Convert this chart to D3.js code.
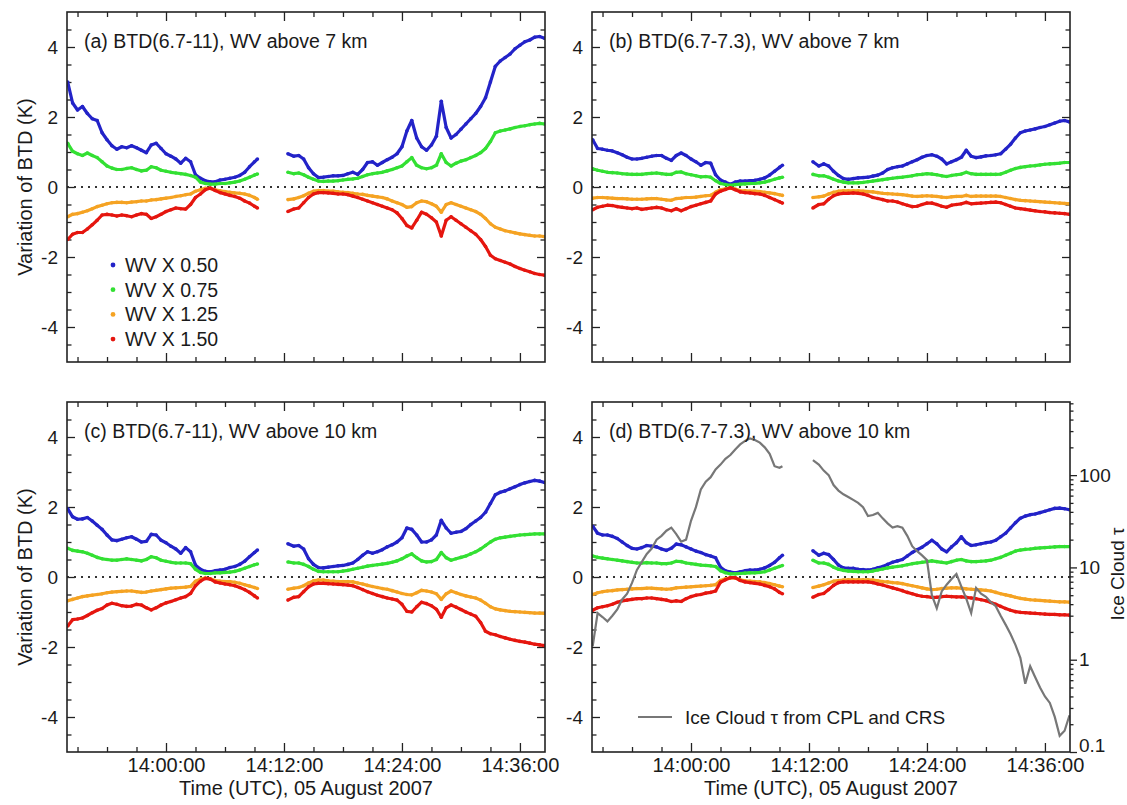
<!DOCTYPE html>
<html>
<head>
<meta charset="utf-8">
<script src="https://cdn.jsdelivr.net/npm/d3@7"></script>
<style>
  body { margin: 0; background: #fff; }
  svg { font-family: "Liberation Sans", Arial, Helvetica, sans-serif; }
</style>
</head>
<body>
<div id="chart"></div>
<script>
(function() {
// minutes relative to 14:00:00 UTC; the flight track has a gap between the two segments
var timeSeg1 = [-10, -9.5, -9, -8.5, -8, -7.5, -7, -6.5, -6, -5.5,
  -5, -4.5, -4, -3.5, -3, -2.5, -2, -1.5, -1, -0.5,
  0, 0.5, 1, 1.5, 2, 2.5, 3, 3.5, 4, 4.5,
  5, 5.5, 6, 6.5, 7, 7.5, 8, 8.5, 9, 9.3];
var timeSeg2 = [12.4, 13, 13.5, 14, 14.5, 15, 15.5, 16, 16.5, 17,
  17.5, 18, 18.5, 19, 19.5, 20, 20.5, 21, 21.5, 22,
  22.5, 23, 23.5, 24, 24.5, 25, 25.5, 26, 26.5, 27,
  27.5, 28, 28.5, 29, 29.5, 30, 30.5, 31, 31.5, 32,
  32.5, 33, 33.5, 34, 34.5, 35, 35.5, 36, 36.5, 37,
  37.5, 38, 38.5];

var seriesNames = ['WV X 0.50', 'WV X 0.75', 'WV X 1.25', 'WV X 1.50'];
var seriesColors = ['#2323c8', '#33e033', '#f5a323', '#e5160f'];

// (a) BTD(6.7-11), WV above 7 km
var a050 = [3.0, 2.4, 2.2, 2.3, 2.1, 1.95, 1.9, 1.55, 1.35, 1.18,
  1.08, 1.15, 1.12, 1.18, 1.12, 1.05, 0.98, 1.2, 1.25, 1.1,
  0.95, 0.88, 0.8, 0.68, 0.82, 0.72, 0.35, 0.25, 0.18, 0.15,
  0.15, 0.2, 0.22, 0.25, 0.28, 0.33, 0.42, 0.58, 0.72, 0.8,
  0.95, 0.88, 0.9, 0.8, 0.55, 0.38, 0.27, 0.28, 0.3, 0.32,
  0.32, 0.33, 0.38, 0.42, 0.36, 0.5, 0.7, 0.72, 0.62, 0.7,
  0.78, 0.85, 0.95, 1.15, 1.6, 1.9, 1.4, 1.15, 1.05, 1.2,
  1.45, 2.45, 1.7, 1.4, 1.5, 1.65, 1.8, 1.95, 2.1, 2.3,
  2.55, 3.0, 3.45, 3.6, 3.7, 3.8, 3.95, 4.05, 4.15, 4.2,
  4.28, 4.3, 4.25];
var a075 = [1.25, 1.02, 0.95, 0.9, 0.97, 0.9, 0.84, 0.72, 0.6, 0.54,
  0.5, 0.5, 0.53, 0.55, 0.5, 0.46, 0.48, 0.58, 0.55, 0.48,
  0.45, 0.42, 0.4, 0.38, 0.36, 0.33, 0.28, 0.14, 0.1, 0.08,
  0.08, 0.1, 0.1, 0.12, 0.14, 0.17, 0.22, 0.28, 0.34, 0.37,
  0.42, 0.38, 0.4, 0.35, 0.28, 0.22, 0.17, 0.16, 0.17, 0.17,
  0.18, 0.2, 0.22, 0.23, 0.25, 0.3, 0.35, 0.38, 0.4, 0.42,
  0.46, 0.5, 0.55, 0.6, 0.72, 0.84, 0.62, 0.55, 0.52, 0.55,
  0.62, 0.95, 0.7, 0.6, 0.68, 0.74, 0.78, 0.84, 0.9, 0.98,
  1.1, 1.3, 1.55, 1.6, 1.63, 1.66, 1.7, 1.73, 1.75, 1.78,
  1.8, 1.82, 1.8];
var a125 = [-0.85, -0.78, -0.76, -0.72, -0.68, -0.62, -0.56, -0.52, -0.48, -0.45,
  -0.44, -0.44, -0.45, -0.43, -0.42, -0.4, -0.4, -0.37, -0.36, -0.34,
  -0.32, -0.3, -0.27, -0.25, -0.22, -0.2, -0.12, -0.08, -0.04, -0.04,
  -0.08, -0.11, -0.13, -0.15, -0.17, -0.18, -0.2, -0.24, -0.3, -0.35,
  -0.36, -0.34, -0.3, -0.25, -0.18, -0.12, -0.1, -0.1, -0.12, -0.12,
  -0.14, -0.15, -0.16, -0.18, -0.2, -0.21, -0.24, -0.26, -0.28, -0.3,
  -0.34, -0.4, -0.45, -0.5, -0.58, -0.56, -0.45, -0.4, -0.42, -0.48,
  -0.55, -0.72, -0.5, -0.45, -0.5, -0.55, -0.6, -0.65, -0.7, -0.78,
  -0.9, -1.05, -1.15, -1.2, -1.25, -1.28, -1.31, -1.34, -1.36, -1.38,
  -1.4, -1.4, -1.42];
var a150 = [-1.5, -1.35, -1.3, -1.3, -1.2, -1.08, -0.95, -0.8, -0.78, -0.8,
  -0.83, -0.8, -0.82, -0.85, -0.8, -0.76, -0.78, -0.9, -0.85, -0.78,
  -0.7, -0.65, -0.6, -0.62, -0.63, -0.5, -0.3, -0.2, -0.08, -0.03,
  -0.1, -0.16, -0.2, -0.24, -0.27, -0.32, -0.4, -0.46, -0.55, -0.6,
  -0.7, -0.63, -0.6, -0.45, -0.3, -0.2, -0.16, -0.16, -0.17, -0.18,
  -0.2, -0.2, -0.22, -0.26, -0.3, -0.35, -0.4, -0.45, -0.5, -0.55,
  -0.6, -0.65, -0.74, -0.9, -1.1, -1.17, -0.95, -0.72, -0.78, -0.88,
  -1.0, -1.4, -0.95, -0.85, -0.95, -1.05, -1.15, -1.25, -1.35, -1.5,
  -1.7, -1.95, -2.05, -2.1, -2.15, -2.2, -2.27, -2.33, -2.38, -2.42,
  -2.47, -2.5, -2.52];

// (b) BTD(6.7-7.3), WV above 7 km
var b050 = [1.35, 1.1, 1.08, 1.05, 1.03, 0.98, 0.92, 0.85, 0.8, 0.8,
  0.82, 0.85, 0.88, 0.9, 0.9, 0.82, 0.76, 0.9, 0.97, 0.9,
  0.8, 0.72, 0.62, 0.7, 0.68, 0.35, 0.2, 0.14, 0.08, 0.14,
  0.17, 0.17, 0.18, 0.19, 0.22, 0.26, 0.34, 0.45, 0.56, 0.62,
  0.72, 0.6, 0.66, 0.6, 0.45, 0.33, 0.24, 0.22, 0.24, 0.26,
  0.27, 0.28, 0.31, 0.34, 0.4, 0.5, 0.55, 0.58, 0.6, 0.66,
  0.72, 0.78, 0.85, 0.9, 0.92, 0.88, 0.8, 0.66, 0.72, 0.78,
  0.85, 1.05, 0.88, 0.84, 0.86, 0.89, 0.9, 0.92, 0.95, 1.08,
  1.22, 1.4, 1.55, 1.6, 1.63, 1.66, 1.7, 1.73, 1.78, 1.83,
  1.88, 1.9, 1.86];
var b075 = [0.52, 0.48, 0.45, 0.42, 0.41, 0.4, 0.38, 0.37, 0.36, 0.36,
  0.36, 0.38, 0.39, 0.4, 0.38, 0.36, 0.36, 0.42, 0.43, 0.38,
  0.35, 0.32, 0.29, 0.3, 0.28, 0.18, 0.1, 0.07, 0.05, 0.07,
  0.08, 0.09, 0.1, 0.1, 0.12, 0.14, 0.18, 0.22, 0.26, 0.28,
  0.36, 0.32, 0.32, 0.28, 0.22, 0.17, 0.14, 0.12, 0.12, 0.12,
  0.13, 0.15, 0.17, 0.19, 0.21, 0.23, 0.25, 0.27, 0.28, 0.3,
  0.32, 0.35, 0.36, 0.38, 0.37, 0.35, 0.32, 0.3, 0.33, 0.35,
  0.37, 0.42, 0.38, 0.36, 0.36, 0.36, 0.36, 0.36, 0.37, 0.42,
  0.48, 0.53, 0.56, 0.58, 0.6, 0.61, 0.63, 0.65, 0.66, 0.67,
  0.68, 0.7, 0.7];
var b125 = [-0.32, -0.3, -0.3, -0.31, -0.32, -0.33, -0.33, -0.34, -0.35, -0.35,
  -0.35, -0.34, -0.33, -0.33, -0.35, -0.37, -0.38, -0.33, -0.32, -0.3,
  -0.3, -0.29, -0.27, -0.25, -0.24, -0.15, -0.08, -0.05, -0.03, -0.06,
  -0.1, -0.11, -0.12, -0.12, -0.13, -0.15, -0.17, -0.19, -0.22, -0.24,
  -0.3, -0.28, -0.26, -0.2, -0.15, -0.12, -0.11, -0.11, -0.11, -0.11,
  -0.12, -0.13, -0.14, -0.16, -0.18, -0.19, -0.2, -0.21, -0.22, -0.24,
  -0.26, -0.27, -0.26, -0.25, -0.26, -0.27, -0.29, -0.3, -0.28, -0.27,
  -0.27, -0.24, -0.27, -0.26, -0.26, -0.26, -0.26, -0.26, -0.27, -0.3,
  -0.33, -0.36, -0.38, -0.39, -0.4, -0.41, -0.42, -0.43, -0.44, -0.45,
  -0.46, -0.47, -0.48];
var b150 = [-0.65, -0.58, -0.55, -0.52, -0.53, -0.56, -0.58, -0.6, -0.62, -0.6,
  -0.64, -0.62, -0.6, -0.58, -0.6, -0.65, -0.68, -0.62, -0.68, -0.62,
  -0.56, -0.52, -0.48, -0.44, -0.4, -0.2, -0.12, -0.07, -0.02, -0.08,
  -0.14, -0.16, -0.17, -0.19, -0.2, -0.24, -0.3, -0.36, -0.42, -0.46,
  -0.6, -0.5, -0.48, -0.35, -0.25, -0.2, -0.18, -0.18, -0.17, -0.18,
  -0.2, -0.24, -0.3, -0.33, -0.36, -0.4, -0.4, -0.43, -0.48, -0.52,
  -0.56, -0.55, -0.5, -0.46, -0.46, -0.5, -0.55, -0.58, -0.52, -0.5,
  -0.48, -0.44, -0.48, -0.47, -0.46, -0.45, -0.44, -0.43, -0.45, -0.5,
  -0.55, -0.6, -0.62, -0.64, -0.66, -0.68, -0.7, -0.71, -0.73, -0.74,
  -0.75, -0.76, -0.78];

// (c) BTD(6.7-11), WV above 10 km
var c050 = [1.95, 1.72, 1.65, 1.66, 1.7, 1.6, 1.48, 1.36, 1.2, 1.06,
  1.04, 1.08, 1.12, 1.15, 1.08, 1.0, 1.02, 1.22, 1.2, 1.05,
  0.98, 0.88, 0.8, 0.68, 0.84, 0.72, 0.34, 0.22, 0.16, 0.15,
  0.18, 0.2, 0.22, 0.27, 0.3, 0.36, 0.45, 0.58, 0.7, 0.77,
  0.95, 0.88, 0.9, 0.8, 0.52, 0.36, 0.27, 0.26, 0.28, 0.3,
  0.32, 0.33, 0.36, 0.4, 0.5, 0.62, 0.72, 0.68, 0.72, 0.78,
  0.86, 0.92, 1.0, 1.12, 1.4, 1.36, 1.2, 1.0, 1.0, 1.06,
  1.2, 1.62, 1.4, 1.25, 1.28, 1.3, 1.38, 1.5, 1.6, 1.7,
  1.85, 2.1, 2.35, 2.42, 2.46, 2.52, 2.58, 2.64, 2.69, 2.73,
  2.76, 2.74, 2.7];
var c075 = [0.82, 0.76, 0.74, 0.72, 0.68, 0.62, 0.56, 0.52, 0.5, 0.48,
  0.48, 0.5, 0.52, 0.5, 0.48, 0.46, 0.5, 0.58, 0.55, 0.48,
  0.45, 0.42, 0.4, 0.4, 0.4, 0.38, 0.22, 0.13, 0.1, 0.1,
  0.12, 0.12, 0.13, 0.14, 0.16, 0.2, 0.25, 0.3, 0.35, 0.37,
  0.43, 0.4, 0.4, 0.36, 0.3, 0.22, 0.16, 0.15, 0.15, 0.15,
  0.15, 0.17, 0.19, 0.22, 0.25, 0.28, 0.31, 0.33, 0.35, 0.37,
  0.39, 0.42, 0.46, 0.52, 0.6, 0.66, 0.55, 0.46, 0.43, 0.44,
  0.5, 0.7, 0.55, 0.48, 0.52, 0.56, 0.6, 0.66, 0.72, 0.8,
  0.9, 1.0, 1.08, 1.12, 1.14, 1.16, 1.18, 1.2, 1.21, 1.22,
  1.23, 1.23, 1.23];
var c125 = [-0.68, -0.64, -0.6, -0.56, -0.54, -0.52, -0.5, -0.48, -0.45, -0.43,
  -0.42, -0.41, -0.4, -0.4, -0.42, -0.44, -0.43, -0.4, -0.38, -0.36,
  -0.34, -0.32, -0.31, -0.3, -0.29, -0.27, -0.12, -0.06, -0.03, -0.05,
  -0.1, -0.12, -0.13, -0.13, -0.15, -0.18, -0.22, -0.26, -0.3, -0.33,
  -0.35, -0.32, -0.3, -0.25, -0.17, -0.11, -0.09, -0.09, -0.11, -0.12,
  -0.13, -0.13, -0.13, -0.14, -0.17, -0.2, -0.24, -0.27, -0.3, -0.33,
  -0.35, -0.39, -0.43, -0.47, -0.5, -0.51, -0.45, -0.38, -0.4, -0.43,
  -0.48, -0.64, -0.48, -0.4, -0.45, -0.5, -0.54, -0.57, -0.6, -0.66,
  -0.75, -0.85, -0.91, -0.94, -0.96, -0.98, -0.99, -1.0, -1.01, -1.02,
  -1.03, -1.03, -1.04];
var c150 = [-1.4, -1.22, -1.2, -1.17, -1.1, -1.02, -0.95, -0.9, -0.8, -0.75,
  -0.78, -0.82, -0.84, -0.83, -0.78, -0.8, -0.88, -0.94, -0.88, -0.8,
  -0.74, -0.7, -0.65, -0.6, -0.56, -0.47, -0.25, -0.12, -0.04, -0.06,
  -0.14, -0.17, -0.2, -0.22, -0.25, -0.3, -0.36, -0.44, -0.54, -0.6,
  -0.66, -0.58, -0.56, -0.42, -0.28, -0.2, -0.18, -0.18, -0.19, -0.2,
  -0.21, -0.22, -0.23, -0.25, -0.3, -0.36, -0.42, -0.47, -0.52, -0.56,
  -0.6, -0.63, -0.66, -0.78, -0.98, -1.0, -0.85, -0.72, -0.76, -0.82,
  -0.92, -1.15, -0.88, -0.8, -0.86, -0.93, -1.0, -1.06, -1.12, -1.3,
  -1.55, -1.62, -1.65, -1.7, -1.74, -1.78, -1.81, -1.84, -1.86, -1.89,
  -1.92, -1.94, -1.96];

// (d) BTD(6.7-7.3), WV above 10 km
var d050 = [1.45, 1.25, 1.2, 1.2, 1.16, 1.1, 1.0, 0.9, 0.82, 0.8,
  0.84, 0.9, 0.88, 0.86, 0.8, 0.76, 0.82, 0.94, 0.92, 0.86,
  0.8, 0.74, 0.7, 0.64, 0.6, 0.55, 0.28, 0.18, 0.14, 0.12,
  0.15, 0.18, 0.2, 0.2, 0.22, 0.26, 0.33, 0.42, 0.55, 0.62,
  0.75, 0.62, 0.68, 0.64, 0.5, 0.34, 0.26, 0.25, 0.25, 0.22,
  0.21, 0.2, 0.22, 0.26, 0.3, 0.36, 0.42, 0.46, 0.5, 0.6,
  0.7, 0.78, 0.85, 0.95, 1.05, 0.95, 0.8, 0.72, 0.86, 0.98,
  1.15, 0.98, 0.9, 0.92, 0.95, 0.98, 1.0, 1.05, 1.15, 1.25,
  1.4, 1.55, 1.68, 1.74, 1.78, 1.8, 1.84, 1.88, 1.92, 1.96,
  1.97, 1.95, 1.92];
var d075 = [0.6, 0.56, 0.54, 0.52, 0.5, 0.48, 0.46, 0.44, 0.42, 0.4,
  0.4, 0.41, 0.4, 0.4, 0.38, 0.38, 0.4, 0.45, 0.44, 0.4,
  0.38, 0.36, 0.34, 0.33, 0.32, 0.3, 0.18, 0.12, 0.09, 0.09,
  0.1, 0.11, 0.12, 0.12, 0.13, 0.15, 0.2, 0.25, 0.3, 0.33,
  0.48, 0.4, 0.4, 0.36, 0.28, 0.22, 0.19, 0.17, 0.16, 0.15,
  0.15, 0.15, 0.17, 0.2, 0.23, 0.26, 0.28, 0.3, 0.32, 0.35,
  0.38, 0.4, 0.42, 0.44, 0.46, 0.44, 0.42, 0.4, 0.44, 0.48,
  0.5, 0.46, 0.44, 0.44, 0.45, 0.46, 0.48, 0.52, 0.56, 0.62,
  0.68, 0.74, 0.77, 0.79, 0.8, 0.82, 0.83, 0.84, 0.85, 0.86,
  0.87, 0.87, 0.87];
var d125 = [-0.5, -0.45, -0.42, -0.4, -0.39, -0.37, -0.36, -0.35, -0.34, -0.33,
  -0.33, -0.32, -0.32, -0.33, -0.34, -0.35, -0.34, -0.31, -0.3, -0.29,
  -0.28, -0.27, -0.26, -0.25, -0.24, -0.22, -0.1, -0.05, -0.02, -0.03,
  -0.08, -0.11, -0.12, -0.13, -0.14, -0.16, -0.19, -0.22, -0.26, -0.28,
  -0.3, -0.26, -0.22, -0.17, -0.12, -0.1, -0.09, -0.08, -0.08, -0.08,
  -0.08, -0.08, -0.09, -0.11, -0.13, -0.14, -0.16, -0.17, -0.19, -0.22,
  -0.25, -0.28, -0.31, -0.34, -0.36, -0.35, -0.33, -0.32, -0.31, -0.31,
  -0.32, -0.34, -0.35, -0.36, -0.37, -0.38, -0.4, -0.44, -0.48, -0.51,
  -0.54, -0.58, -0.61, -0.63, -0.65, -0.66, -0.67, -0.68, -0.69, -0.7,
  -0.71, -0.71, -0.72];
var d150 = [-0.95, -0.88, -0.85, -0.82, -0.78, -0.72, -0.68, -0.66, -0.64, -0.62,
  -0.62, -0.6, -0.6, -0.62, -0.64, -0.66, -0.7, -0.68, -0.7, -0.62,
  -0.56, -0.52, -0.5, -0.46, -0.44, -0.4, -0.15, -0.08, -0.02, -0.02,
  -0.1, -0.14, -0.16, -0.18, -0.2, -0.24, -0.28, -0.34, -0.44, -0.48,
  -0.58, -0.5, -0.47, -0.36, -0.24, -0.16, -0.14, -0.14, -0.14, -0.14,
  -0.14, -0.14, -0.16, -0.2, -0.23, -0.27, -0.31, -0.35, -0.39, -0.44,
  -0.48, -0.52, -0.55, -0.56, -0.58, -0.58, -0.56, -0.55, -0.56, -0.57,
  -0.57, -0.58, -0.6, -0.62, -0.65, -0.68, -0.73, -0.78, -0.84, -0.9,
  -0.95, -0.99, -1.01, -1.02, -1.03, -1.04, -1.05, -1.06, -1.07, -1.07,
  -1.08, -1.08, -1.09];

// ice cloud optical depth from CPL and CRS (right log axis of panel d)
var iceTau = [1.4, 3.2, 2.9, 2.6, 3.0, 3.5, 4.5, 5.2, 6.8, 9.4,
  11.5, 14, 16, 20, 22, 25, 27, 23, 19, 20,
  32, 45, 70, 85, 95, 115, 130, 150, 165, 190,
  215, 235, 250, 240, 225, 200, 170, 125, 120, 125,
  145, 130, 112, 100, 78, 68, 62, 58, 54, 50,
  45, 36, 37, 39, 34, 30, 27, 28, 27, 22,
  17, 15, 13.5, 12, 5.0, 3.6, 5.5, 6.5, 7.5, 8.5,
  6.2, 4.6, 3.2, 6.0, 5.2, 4.8, 4.2, 3.8, 3.0, 2.4,
  1.9, 1.45, 1.05, 0.55, 0.85, 0.65, 0.5, 0.4, 0.34, 0.24,
  0.15, 0.17, 0.25];

var yTicks = [-4, -2, 0, 2, 4];
var xMajorTicks = [0, 12, 24, 36];
var tauTicks = [0.1, 1, 10, 100];
var tauTickLabels = ['0.1', '1', '10', '100'];

var panels = [
  {title: '(a) BTD(6.7-11), WV above 7 km', left: 67, top: 12,
    series: [a050, a075, a125, a150], yTitle: true, xLabels: false, legend: true},
  {title: '(b) BTD(6.7-7.3), WV above 7 km', left: 592, top: 12,
    series: [b050, b075, b125, b150], yTitle: false, xLabels: false},
  {title: '(c) BTD(6.7-11), WV above 10 km', left: 67, top: 402,
    series: [c050, c075, c125, c150], yTitle: true, xLabels: true},
  {title: '(d) BTD(6.7-7.3), WV above 10 km', left: 592, top: 402,
    series: [d050, d075, d125, d150], yTitle: false, xLabels: true, tau: iceTau}
];

var width = 1127, height = 805, pw = 478, ph = 350;
var textColor = '#1a1a1a';

var svg = d3.select('#chart').append('svg')
    .attr('width', width)
    .attr('height', height);

var x = d3.scaleLinear().domain([-10.07, 38.55]).range([0, pw]);
var y = d3.scaleLinear().domain([-5, 5]).range([ph, 0]);
var tau = d3.scaleLog().domain([0.1, 620]).range([ph, 0]);

function splitSegments(values) {
  var n = timeSeg1.length;
  return [
    timeSeg1.map(function(t, i) { return [t, values[i]]; }),
    timeSeg2.map(function(t, i) { return [t, values[n + i]]; })
  ];
}

function timeLabel(m) {
  var h = 14 + Math.floor(m / 60), mm = ((m % 60) + 60) % 60;
  return h + ':' + d3.format('02d')(mm) + ':00';
}

// plain hyphen for negatives, as in the original figure
function plainNumber(v) { return String(v); }

var minorY = d3.range(-4.5, 5, 0.5).filter(function(v) { return v % 2 !== 0; });
var minorX = d3.range(-9, 39, 3).filter(function(v) { return v % 12 !== 0; });

function styleAxis(g) {
  g.select('.domain').remove();
  g.selectAll('line').attr('stroke', '#222').attr('stroke-width', 1.3);
  g.selectAll('text').attr('fill', textColor).attr('font-family', null);
}

panels.forEach(function(p, pi) {
  var g = svg.append('g').attr('transform', 'translate(' + p.left + ',' + p.top + ')');
  var clipId = 'clip' + pi;
  g.append('clipPath').attr('id', clipId)
    .append('rect').attr('width', pw).attr('height', ph);

  // axes: ticks point into the frame on all four sides
  g.append('g')
      .call(d3.axisLeft(y).tickValues(yTicks).tickSize(-8).tickPadding(9)
          .tickFormat(plainNumber))
      .attr('font-size', 19)
      .call(styleAxis);
  g.append('g')
      .call(d3.axisLeft(y).tickValues(minorY).tickSize(-4.5).tickFormat(''))
      .call(styleAxis);
  if (!p.tau) {
    g.append('g').attr('transform', 'translate(' + pw + ',0)')
        .call(d3.axisRight(y).tickValues(yTicks).tickSize(-8).tickFormat(''))
        .call(styleAxis);
    g.append('g').attr('transform', 'translate(' + pw + ',0)')
        .call(d3.axisRight(y).tickValues(minorY).tickSize(-4.5).tickFormat(''))
        .call(styleAxis);
  }

  g.append('g').attr('transform', 'translate(0,' + ph + ')')
      .call(d3.axisBottom(x).tickValues(xMajorTicks).tickSize(-9).tickPadding(6)
          .tickFormat(p.xLabels ? timeLabel : ''))
      .attr('font-size', 20)
      .call(styleAxis);
  g.append('g').attr('transform', 'translate(0,' + ph + ')')
      .call(d3.axisBottom(x).tickValues(minorX).tickSize(-5).tickFormat(''))
      .call(styleAxis);
  g.append('g')
      .call(d3.axisTop(x).tickValues(xMajorTicks).tickSize(-9).tickFormat(''))
      .call(styleAxis);
  g.append('g')
      .call(d3.axisTop(x).tickValues(minorX).tickSize(-5).tickFormat(''))
      .call(styleAxis);

  var plot = g.append('g').attr('clip-path', 'url(#' + clipId + ')');

  plot.append('line')
      .attr('x1', 0).attr('x2', pw)
      .attr('y1', y(0)).attr('y2', y(0))
      .attr('stroke', '#333')
      .attr('stroke-width', 1.8)
      .attr('stroke-dasharray', '2,5');

  var line = d3.line()
      .x(function(d) { return x(d[0]); })
      .y(function(d) { return y(d[1]); });

  p.series.forEach(function(values, si) {
    var segs = splitSegments(values);
    var sg = plot.append('g');
    segs.forEach(function(seg) {
      sg.append('path')
          .attr('d', line(seg))
          .attr('fill', 'none')
          .attr('stroke', seriesColors[si])
          .attr('stroke-width', 3.2)
          .attr('stroke-linejoin', 'round');
      sg.selectAll(null).data(seg).enter().append('circle')
          .attr('cx', function(d) { return x(d[0]); })
          .attr('cy', function(d) { return y(d[1]); })
          .attr('r', 1.8)
          .attr('fill', seriesColors[si]);
    });
  });

  if (p.tau) {
    var tauLine = d3.line()
        .x(function(d) { return x(d[0]); })
        .y(function(d) { return tau(d[1]); });
    splitSegments(p.tau).forEach(function(seg) {
      plot.append('path')
          .attr('d', tauLine(seg))
          .attr('fill', 'none')
          .attr('stroke', '#777')
          .attr('stroke-width', 2.2);
    });

    var tauMinor = [];
    [0.1, 1, 10, 100].forEach(function(dec) {
      for (var k = 2; k <= 9; k++) {
        if (dec * k < 620) tauMinor.push(dec * k);
      }
    });
    var tauAxis = g.append('g').attr('transform', 'translate(' + pw + ',0)')
        .call(d3.axisRight(tau).tickValues(tauTicks).tickSize(7).tickPadding(2)
            .tickFormat(function(d, i) { return tauTickLabels[i]; }))
        .attr('font-size', 19)
        .call(styleAxis);
    // lowest label sits just above the frame corner
    tauAxis.selectAll('.tick text').filter(function(d) { return d === 0.1; })
        .attr('dy', '-0.05em');
    g.append('g').attr('transform', 'translate(' + pw + ',0)')
        .call(d3.axisRight(tau).tickValues(tauMinor).tickSize(3.5).tickFormat(''))
        .call(styleAxis);

    svg.append('text')
        .attr('transform', 'translate(1124,' + (p.top + 172) + ') rotate(-90)')
        .attr('text-anchor', 'middle')
        .attr('font-size', 19)
        .attr('fill', textColor)
        .text('Ice Cloud \u03c4');

    g.append('line')
        .attr('x1', 46).attr('x2', 80)
        .attr('y1', 315).attr('y2', 315)
        .attr('stroke', '#777').attr('stroke-width', 2.2);
    g.append('text')
        .attr('x', 93).attr('y', 322)
        .attr('font-size', 19)
        .attr('fill', textColor)
        .text('Ice Cloud \u03c4 from CPL and CRS');
  }

  // frame
  g.append('rect')
      .attr('width', pw).attr('height', ph)
      .attr('fill', 'none')
      .attr('stroke', '#222')
      .attr('stroke-width', 1.6);

  g.append('text')
      .attr('x', 17).attr('y', 36)
      .attr('font-size', 19.5)
      .attr('fill', textColor)
      .text(p.title);

  if (p.yTitle) {
    svg.append('text')
        .attr('transform', 'translate(32,' + (p.top + ph / 2) + ') rotate(-90)')
        .attr('text-anchor', 'middle')
        .attr('font-size', 20)
        .attr('fill', textColor)
        .text('Variation of BTD (K)');
  }

  if (p.xLabels) {
    g.append('text')
        .attr('x', pw / 2).attr('y', ph + 43)
        .attr('text-anchor', 'middle')
        .attr('font-size', 20)
        .attr('fill', textColor)
        .text('Time (UTC), 05 August 2007');
  }

  if (p.legend) {
    var lg = g.append('g').attr('transform', 'translate(46,253)');
    seriesNames.forEach(function(name, i) {
      lg.append('circle')
          .attr('cx', 0).attr('cy', i * 24.7)
          .attr('r', 2.4)
          .attr('fill', seriesColors[i]);
      lg.append('text')
          .attr('x', 12).attr('y', i * 24.7 + 7)
          .attr('font-size', 19.5)
          .attr('fill', textColor)
          .text(name);
    });
  }
});

})();
</script>
</body>
</html>
